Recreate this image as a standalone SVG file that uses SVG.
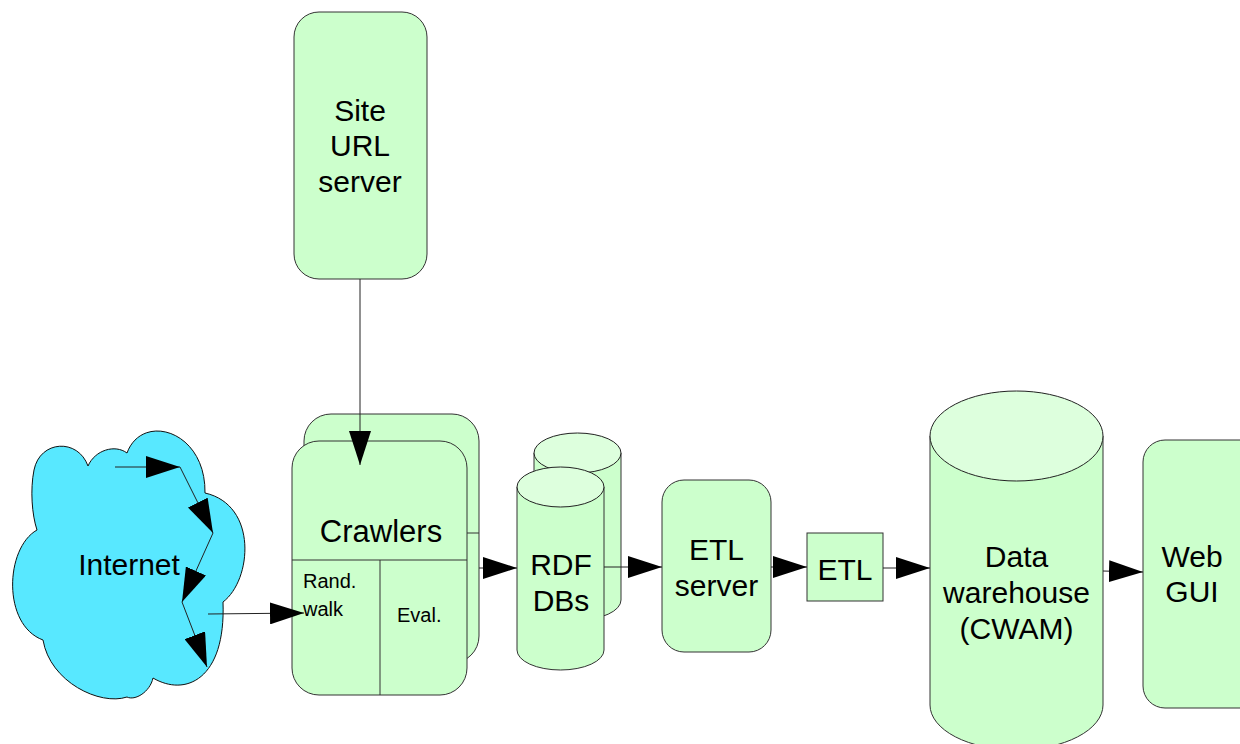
<svg xmlns="http://www.w3.org/2000/svg" width="1240" height="744" viewBox="0 0 1240 744">
  <defs>
    <marker id="arrow" markerUnits="userSpaceOnUse" markerWidth="34" markerHeight="22" viewBox="0 0 34 22" refX="34" refY="11" orient="auto">
      <path d="M0,0 L34,11 L0,22 z" fill="#000"/>
    </marker>
    <style>
      .box { fill: #ccffcc; stroke: #333; stroke-width: 1; }
      .top { fill: #ddffdd; stroke: #222; stroke-width: 1; }
      .div { stroke: #333; stroke-width: 1; fill: none; }
      .cloud { fill: #58e8ff; stroke: #111; stroke-width: 1; }
      .conn { stroke: #222; stroke-width: 1; fill: none; marker-end: url(#arrow); }
      text { font-family: "Liberation Sans", Arial, sans-serif; fill: #000; text-anchor: middle; }
      .lbl { font-size: 30px; }
      .sm { font-size: 20px; text-anchor: start; }
    </style>
  </defs>

  <rect width="1240" height="744" fill="#fff"/>

  <!-- Site URL server -->
  <g id="site-url-server">
    <rect class="box" x="294" y="12" width="133" height="267" rx="25" ry="25"/>
    <text class="lbl" x="360" y="121">Site</text>
    <text class="lbl" x="360" y="156">URL</text>
    <text class="lbl" x="360" y="192">server</text>
  </g>

  <!-- Internet cloud -->
  <g id="internet">
    <path class="cloud" d="M88,466 C78,438 40,440 34,470 C30,490 32,515 37,530 C5,548 2,625 43,640 C50,682 100,706 127,697 C135,701 150,692 153,678 C185,697 226,680 223,602 C252,580 258,505 205,493 C206,430 142,412 127,453 C115,444 95,450 88,466 Z"/>
    <text class="lbl" x="129" y="575">Internet</text>
  </g>

  <!-- Crawlers (stacked) -->
  <g id="crawlers">
    <rect class="box" x="304" y="414" width="175" height="249" rx="27" ry="27"/>
    <line class="div" x1="304" y1="533" x2="479" y2="533"/>
    <rect class="box" x="292" y="441" width="175" height="254" rx="27" ry="27"/>
    <line class="div" x1="292" y1="560" x2="467" y2="560"/>
    <line class="div" x1="380" y1="560" x2="380" y2="695"/>
    <text class="lbl" x="381" y="542" style="font-size:31px">Crawlers</text>
    <text class="sm" x="303" y="588">Rand.</text>
    <text class="sm" x="303" y="616">walk</text>
    <text class="sm" x="397" y="622">Eval.</text>
  </g>

  <!-- RDF databases (stacked cylinders) -->
  <g id="rdf-dbs">
    <path class="box" d="M534,453 L534,600 A43.5,20 0 0 0 621,600 L621,453 Z"/>
    <ellipse class="top" cx="577.5" cy="453" rx="43.5" ry="20"/>
    <path class="box" d="M517,487 L517,650 A43.5,20 0 0 0 604,650 L604,487 Z"/>
    <ellipse class="top" cx="560.5" cy="487" rx="43.5" ry="20"/>
    <text class="lbl" x="561" y="575">RDF</text>
    <text class="lbl" x="561" y="611">DBs</text>
  </g>

  <!-- ETL server -->
  <g id="etl-server">
    <rect class="box" x="662" y="480" width="109" height="172" rx="22" ry="22"/>
    <text class="lbl" x="716.5" y="560">ETL</text>
    <text class="lbl" x="716.5" y="596">server</text>
  </g>

  <!-- ETL step -->
  <g id="etl">
    <rect class="box" x="807" y="533" width="76" height="68"/>
    <text class="lbl" x="845" y="580">ETL</text>
  </g>

  <!-- Data warehouse -->
  <g id="data-warehouse">
    <path class="box" d="M930,436 L930,705 A86.5,45 0 0 0 1103,705 L1103,436 Z"/>
    <ellipse class="top" cx="1016.5" cy="436" rx="86.5" ry="45"/>
    <text class="lbl" x="1016.5" y="567">Data</text>
    <text class="lbl" x="1016.5" y="603">warehouse</text>
    <text class="lbl" x="1016.5" y="639">(CWAM)</text>
  </g>

  <!-- Web GUI -->
  <g id="web-gui">
    <rect class="box" x="1143" y="440" width="120" height="268" rx="22" ry="22"/>
    <text class="lbl" x="1192" y="567">Web</text>
    <text class="lbl" x="1192" y="602">GUI</text>
  </g>

  <!-- Connectors -->
  <g id="connectors">
    <line class="conn" x1="360" y1="279" x2="360" y2="465"/>
    <line class="conn" x1="115" y1="467" x2="180" y2="467"/>
    <line class="conn" x1="180" y1="467" x2="213" y2="533"/>
    <line class="conn" x1="213" y1="533" x2="182" y2="602"/>
    <line class="conn" x1="182" y1="602" x2="207" y2="667"/>
    <line class="conn" x1="208" y1="614" x2="304" y2="613"/>
    <line class="conn" x1="479" y1="568" x2="517" y2="568"/>
    <line class="conn" x1="604" y1="567" x2="662" y2="567"/>
    <line class="conn" x1="771" y1="567" x2="807" y2="567"/>
    <line class="conn" x1="883" y1="568" x2="930" y2="568"/>
    <line class="conn" x1="1103" y1="571" x2="1143" y2="572"/>
  </g>
</svg>
